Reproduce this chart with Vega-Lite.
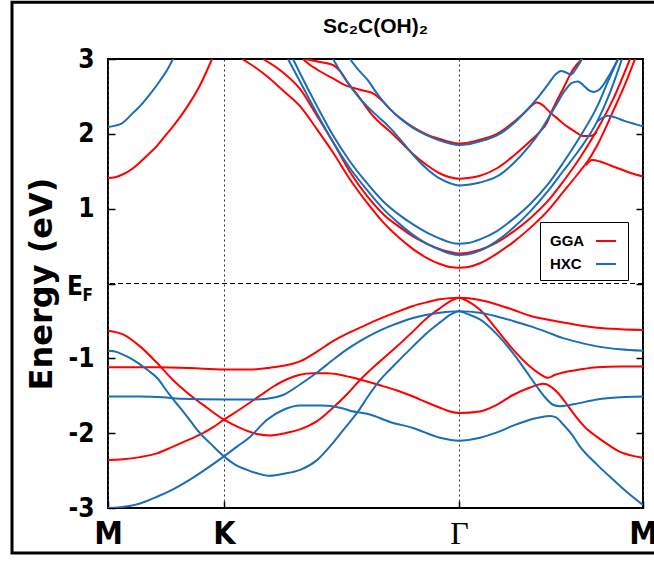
{
"$schema": "https://vega.github.io/schema/vega-lite/v6.json",
"width": 535, "height": 449,
"autosize": "none",
"padding": {"left": 108, "top": 59, "right": 11, "bottom": 57},
"background": "white",
"title": {"text": "Sc₂C(OH)₂", "fontSize": 21, "fontWeight": "bold", "font": "Liberation Sans Narrow, Liberation Sans", "color": "black", "anchor": "middle", "frame": "group", "offset": 0, "dy": 36},
"config": {
  "view": {"stroke": "black", "strokeWidth": 2},
  "axisX": {"title": null, "domain": false, "labelFont": "Liberation Sans Narrow, DejaVu Sans Condensed, Liberation Sans", "labelFontSize": 32, "labelFontWeight": "bold", "labelColor": "black", "tickColor": "black", "tickSize": -7, "tickWidth": 1.5, "labelPadding": 17, "grid": true, "gridDash": [2, 3], "gridColor": "#333333", "gridWidth": 1, "labelFlush": false},
  "axisY": {"domain": false, "grid": false, "labelFont": "Liberation Sans Narrow, DejaVu Sans Condensed, Liberation Sans", "labelFontSize": 26, "labelFontWeight": "bold", "labelColor": "black", "tickColor": "black", "tickSize": -7, "tickWidth": 1.5, "labelPadding": 21, "titleFont": "DejaVu Sans", "titleFontSize": 32, "titleFontWeight": "bold", "titleColor": "black", "titlePadding": 10, "labelFlush": false}
},
"datasets": {"bands": [
{"b":"gA","m":"GGA","k":0,"E":-0.63},{"b":"gA","m":"GGA","k":15,"E":-0.68},{"b":"gA","m":"GGA","k":32,"E":-0.84},{"b":"gA","m":"GGA","k":49,"E":-1.06},{"b":"gA","m":"GGA","k":65,"E":-1.29},{"b":"gA","m":"GGA","k":82,"E":-1.49},{"b":"gA","m":"GGA","k":99,"E":-1.66},{"b":"gA","m":"GGA","k":116,"E":-1.82},{"b":"gA","m":"GGA","k":132,"E":-1.93},{"b":"gA","m":"GGA","k":149,"E":-2.01},{"b":"gA","m":"GGA","k":162,"E":-2.03},{"b":"gA","m":"GGA","k":177,"E":-2.0},{"b":"gA","m":"GGA","k":192,"E":-1.95},{"b":"gA","m":"GGA","k":209,"E":-1.84},{"b":"gA","m":"GGA","k":225,"E":-1.66},{"b":"gA","m":"GGA","k":239,"E":-1.48},{"b":"gA","m":"GGA","k":252,"E":-1.29},{"b":"gA","m":"GGA","k":272,"E":-1.04},{"b":"gA","m":"GGA","k":289,"E":-0.84},{"b":"gA","m":"GGA","k":305,"E":-0.64},{"b":"gA","m":"GGA","k":319,"E":-0.46},{"b":"gA","m":"GGA","k":332,"E":-0.33},{"b":"gA","m":"GGA","k":342,"E":-0.24},{"b":"gA","m":"GGA","k":351,"E":-0.19},{"b":"gA","m":"GGA","k":360,"E":-0.24},{"b":"gA","m":"GGA","k":372,"E":-0.35},{"b":"gA","m":"GGA","k":389,"E":-0.62},{"b":"gA","m":"GGA","k":405,"E":-0.88},{"b":"gA","m":"GGA","k":422,"E":-1.11},{"b":"gA","m":"GGA","k":432,"E":-1.21},{"b":"gA","m":"GGA","k":440,"E":-1.26},{"b":"gA","m":"GGA","k":447,"E":-1.22},{"b":"gA","m":"GGA","k":455,"E":-1.19},{"b":"gA","m":"GGA","k":472,"E":-1.15},{"b":"gA","m":"GGA","k":489,"E":-1.12},{"b":"gA","m":"GGA","k":512,"E":-1.11},{"b":"gA","m":"GGA","k":535,"E":-1.11},
{"b":"gB","m":"GGA","k":0,"E":-1.12},{"b":"gB","m":"GGA","k":32,"E":-1.12},{"b":"gB","m":"GGA","k":49,"E":-1.12},{"b":"gB","m":"GGA","k":82,"E":-1.13},{"b":"gB","m":"GGA","k":116,"E":-1.15},{"b":"gB","m":"GGA","k":142,"E":-1.15},{"b":"gB","m":"GGA","k":159,"E":-1.13},{"b":"gB","m":"GGA","k":175,"E":-1.1},{"b":"gB","m":"GGA","k":192,"E":-1.04},{"b":"gB","m":"GGA","k":209,"E":-0.91},{"b":"gB","m":"GGA","k":225,"E":-0.77},{"b":"gB","m":"GGA","k":239,"E":-0.67},{"b":"gB","m":"GGA","k":252,"E":-0.59},{"b":"gB","m":"GGA","k":272,"E":-0.47},{"b":"gB","m":"GGA","k":289,"E":-0.38},{"b":"gB","m":"GGA","k":305,"E":-0.3},{"b":"gB","m":"GGA","k":319,"E":-0.25},{"b":"gB","m":"GGA","k":332,"E":-0.21},{"b":"gB","m":"GGA","k":351,"E":-0.19},{"b":"gB","m":"GGA","k":372,"E":-0.22},{"b":"gB","m":"GGA","k":389,"E":-0.28},{"b":"gB","m":"GGA","k":405,"E":-0.35},{"b":"gB","m":"GGA","k":422,"E":-0.43},{"b":"gB","m":"GGA","k":439,"E":-0.48},{"b":"gB","m":"GGA","k":455,"E":-0.52},{"b":"gB","m":"GGA","k":472,"E":-0.56},{"b":"gB","m":"GGA","k":489,"E":-0.59},{"b":"gB","m":"GGA","k":512,"E":-0.61},{"b":"gB","m":"GGA","k":535,"E":-0.62},
{"b":"gC","m":"GGA","k":0,"E":-2.36},{"b":"gC","m":"GGA","k":15,"E":-2.35},{"b":"gC","m":"GGA","k":32,"E":-2.32},{"b":"gC","m":"GGA","k":49,"E":-2.27},{"b":"gC","m":"GGA","k":65,"E":-2.18},{"b":"gC","m":"GGA","k":82,"E":-2.08},{"b":"gC","m":"GGA","k":92,"E":-2.02},{"b":"gC","m":"GGA","k":104,"E":-1.93},{"b":"gC","m":"GGA","k":116,"E":-1.82},{"b":"gC","m":"GGA","k":132,"E":-1.68},{"b":"gC","m":"GGA","k":142,"E":-1.59},{"b":"gC","m":"GGA","k":154,"E":-1.48},{"b":"gC","m":"GGA","k":165,"E":-1.38},{"b":"gC","m":"GGA","k":179,"E":-1.28},{"b":"gC","m":"GGA","k":192,"E":-1.22},{"b":"gC","m":"GGA","k":205,"E":-1.2},{"b":"gC","m":"GGA","k":219,"E":-1.2},{"b":"gC","m":"GGA","k":232,"E":-1.22},{"b":"gC","m":"GGA","k":242,"E":-1.25},{"b":"gC","m":"GGA","k":259,"E":-1.31},{"b":"gC","m":"GGA","k":272,"E":-1.36},{"b":"gC","m":"GGA","k":289,"E":-1.43},{"b":"gC","m":"GGA","k":305,"E":-1.51},{"b":"gC","m":"GGA","k":319,"E":-1.59},{"b":"gC","m":"GGA","k":332,"E":-1.66},{"b":"gC","m":"GGA","k":342,"E":-1.71},{"b":"gC","m":"GGA","k":351,"E":-1.73},{"b":"gC","m":"GGA","k":372,"E":-1.71},{"b":"gC","m":"GGA","k":389,"E":-1.62},{"b":"gC","m":"GGA","k":405,"E":-1.49},{"b":"gC","m":"GGA","k":422,"E":-1.39},{"b":"gC","m":"GGA","k":435,"E":-1.34},{"b":"gC","m":"GGA","k":442,"E":-1.37},{"b":"gC","m":"GGA","k":449,"E":-1.45},{"b":"gC","m":"GGA","k":457,"E":-1.58},{"b":"gC","m":"GGA","k":465,"E":-1.73},{"b":"gC","m":"GGA","k":477,"E":-1.92},{"b":"gC","m":"GGA","k":489,"E":-2.05},{"b":"gC","m":"GGA","k":502,"E":-2.17},{"b":"gC","m":"GGA","k":512,"E":-2.25},{"b":"gC","m":"GGA","k":524,"E":-2.3},{"b":"gC","m":"GGA","k":535,"E":-2.33},
{"b":"gc1","m":"GGA","k":134,"E":3.0},{"b":"gc1","m":"GGA","k":147,"E":2.89},{"b":"gc1","m":"GGA","k":159,"E":2.77},{"b":"gc1","m":"GGA","k":175,"E":2.58},{"b":"gc1","m":"GGA","k":192,"E":2.37},{"b":"gc1","m":"GGA","k":209,"E":2.06},{"b":"gc1","m":"GGA","k":225,"E":1.75},{"b":"gc1","m":"GGA","k":242,"E":1.39},{"b":"gc1","m":"GGA","k":259,"E":1.08},{"b":"gc1","m":"GGA","k":275,"E":0.82},{"b":"gc1","m":"GGA","k":292,"E":0.6},{"b":"gc1","m":"GGA","k":305,"E":0.46},{"b":"gc1","m":"GGA","k":319,"E":0.34},{"b":"gc1","m":"GGA","k":332,"E":0.26},{"b":"gc1","m":"GGA","k":342,"E":0.22},{"b":"gc1","m":"GGA","k":351,"E":0.21},{"b":"gc1","m":"GGA","k":360,"E":0.22},{"b":"gc1","m":"GGA","k":372,"E":0.27},{"b":"gc1","m":"GGA","k":389,"E":0.4},{"b":"gc1","m":"GGA","k":405,"E":0.55},{"b":"gc1","m":"GGA","k":422,"E":0.74},{"b":"gc1","m":"GGA","k":439,"E":0.96},{"b":"gc1","m":"GGA","k":455,"E":1.22},{"b":"gc1","m":"GGA","k":472,"E":1.5},{"b":"gc1","m":"GGA","k":480,"E":1.64},{"b":"gc1","m":"GGA","k":489,"E":1.84},{"b":"gc1","m":"GGA","k":505,"E":2.3},{"b":"gc1","m":"GGA","k":517,"E":2.66},{"b":"gc1","m":"GGA","k":527,"E":3.0},
{"b":"gc2","m":"GGA","k":155,"E":3.0},{"b":"gc2","m":"GGA","k":175,"E":2.82},{"b":"gc2","m":"GGA","k":192,"E":2.6},{"b":"gc2","m":"GGA","k":209,"E":2.24},{"b":"gc2","m":"GGA","k":225,"E":1.89},{"b":"gc2","m":"GGA","k":242,"E":1.49},{"b":"gc2","m":"GGA","k":259,"E":1.17},{"b":"gc2","m":"GGA","k":275,"E":0.93},{"b":"gc2","m":"GGA","k":292,"E":0.75},{"b":"gc2","m":"GGA","k":305,"E":0.63},{"b":"gc2","m":"GGA","k":319,"E":0.53},{"b":"gc2","m":"GGA","k":332,"E":0.46},{"b":"gc2","m":"GGA","k":342,"E":0.42},{"b":"gc2","m":"GGA","k":351,"E":0.4},{"b":"gc2","m":"GGA","k":360,"E":0.41},{"b":"gc2","m":"GGA","k":372,"E":0.45},{"b":"gc2","m":"GGA","k":389,"E":0.55},{"b":"gc2","m":"GGA","k":405,"E":0.69},{"b":"gc2","m":"GGA","k":422,"E":0.87},{"b":"gc2","m":"GGA","k":439,"E":1.09},{"b":"gc2","m":"GGA","k":455,"E":1.36},{"b":"gc2","m":"GGA","k":472,"E":1.68},{"b":"gc2","m":"GGA","k":489,"E":2.05},{"b":"gc2","m":"GGA","k":505,"E":2.46},{"b":"gc2","m":"GGA","k":522,"E":3.0},
{"b":"gc3","m":"GGA","k":197,"E":3.0},{"b":"gc3","m":"GGA","k":212,"E":2.96},{"b":"gc3","m":"GGA","k":225,"E":2.92},{"b":"gc3","m":"GGA","k":232,"E":2.84},{"b":"gc3","m":"GGA","k":240,"E":2.68},{"b":"gc3","m":"GGA","k":249,"E":2.53},{"b":"gc3","m":"GGA","k":257,"E":2.38},{"b":"gc3","m":"GGA","k":265,"E":2.24},{"b":"gc3","m":"GGA","k":282,"E":2.03},{"b":"gc3","m":"GGA","k":292,"E":1.9},{"b":"gc3","m":"GGA","k":305,"E":1.73},{"b":"gc3","m":"GGA","k":319,"E":1.58},{"b":"gc3","m":"GGA","k":332,"E":1.47},{"b":"gc3","m":"GGA","k":342,"E":1.42},{"b":"gc3","m":"GGA","k":351,"E":1.4},{"b":"gc3","m":"GGA","k":360,"E":1.41},{"b":"gc3","m":"GGA","k":372,"E":1.44},{"b":"gc3","m":"GGA","k":389,"E":1.54},{"b":"gc3","m":"GGA","k":405,"E":1.7},{"b":"gc3","m":"GGA","k":422,"E":1.9},{"b":"gc3","m":"GGA","k":432,"E":2.03},{"b":"gc3","m":"GGA","k":439,"E":2.15},{"b":"gc3","m":"GGA","k":443,"E":2.28},{"b":"gc3","m":"GGA","k":448,"E":2.42},{"b":"gc3","m":"GGA","k":455,"E":2.6},{"b":"gc3","m":"GGA","k":465,"E":2.86},{"b":"gc3","m":"GGA","k":474,"E":3.0},
{"b":"gc4","m":"GGA","k":195,"E":3.0},{"b":"gc4","m":"GGA","k":202,"E":2.92},{"b":"gc4","m":"GGA","k":209,"E":2.86},{"b":"gc4","m":"GGA","k":225,"E":2.74},{"b":"gc4","m":"GGA","k":239,"E":2.64},{"b":"gc4","m":"GGA","k":252,"E":2.59},{"b":"gc4","m":"GGA","k":265,"E":2.54},{"b":"gc4","m":"GGA","k":275,"E":2.43},{"b":"gc4","m":"GGA","k":282,"E":2.33},{"b":"gc4","m":"GGA","k":292,"E":2.21},{"b":"gc4","m":"GGA","k":305,"E":2.09},{"b":"gc4","m":"GGA","k":319,"E":1.99},{"b":"gc4","m":"GGA","k":332,"E":1.93},{"b":"gc4","m":"GGA","k":342,"E":1.89},{"b":"gc4","m":"GGA","k":351,"E":1.87},{"b":"gc4","m":"GGA","k":360,"E":1.88},{"b":"gc4","m":"GGA","k":372,"E":1.92},{"b":"gc4","m":"GGA","k":389,"E":2.0},{"b":"gc4","m":"GGA","k":405,"E":2.15},{"b":"gc4","m":"GGA","k":417,"E":2.29},{"b":"gc4","m":"GGA","k":429,"E":2.42},{"b":"gc4","m":"GGA","k":435,"E":2.38},{"b":"gc4","m":"GGA","k":441,"E":2.3},{"b":"gc4","m":"GGA","k":448,"E":2.22},{"b":"gc4","m":"GGA","k":459,"E":2.1},{"b":"gc4","m":"GGA","k":467,"E":2.03},{"b":"gc4","m":"GGA","k":475,"E":1.97},{"b":"gc4","m":"GGA","k":482,"E":1.97},{"b":"gc4","m":"GGA","k":489,"E":2.02},
{"b":"gc5","m":"GGA","k":0,"E":1.41},{"b":"gc5","m":"GGA","k":7,"E":1.42},{"b":"gc5","m":"GGA","k":15,"E":1.46},{"b":"gc5","m":"GGA","k":24,"E":1.53},{"b":"gc5","m":"GGA","k":32,"E":1.62},{"b":"gc5","m":"GGA","k":40,"E":1.72},{"b":"gc5","m":"GGA","k":49,"E":1.84},{"b":"gc5","m":"GGA","k":57,"E":1.97},{"b":"gc5","m":"GGA","k":65,"E":2.1},{"b":"gc5","m":"GGA","k":74,"E":2.26},{"b":"gc5","m":"GGA","k":82,"E":2.42},{"b":"gc5","m":"GGA","k":92,"E":2.65},{"b":"gc5","m":"GGA","k":104,"E":3.0},
{"b":"gc6","m":"GGA","k":478,"E":1.58},{"b":"gc6","m":"GGA","k":484,"E":1.65},{"b":"gc6","m":"GGA","k":492,"E":1.63},{"b":"gc6","m":"GGA","k":502,"E":1.58},{"b":"gc6","m":"GGA","k":512,"E":1.53},{"b":"gc6","m":"GGA","k":522,"E":1.48},{"b":"gc6","m":"GGA","k":535,"E":1.43},
{"b":"hA","m":"HXC","k":0,"E":-0.9},{"b":"hA","m":"HXC","k":7,"E":-0.91},{"b":"hA","m":"HXC","k":15,"E":-0.95},{"b":"hA","m":"HXC","k":24,"E":-1.01},{"b":"hA","m":"HXC","k":32,"E":-1.08},{"b":"hA","m":"HXC","k":40,"E":-1.16},{"b":"hA","m":"HXC","k":49,"E":-1.26},{"b":"hA","m":"HXC","k":59,"E":-1.44},{"b":"hA","m":"HXC","k":67,"E":-1.58},{"b":"hA","m":"HXC","k":72,"E":-1.66},{"b":"hA","m":"HXC","k":82,"E":-1.83},{"b":"hA","m":"HXC","k":92,"E":-2.0},{"b":"hA","m":"HXC","k":104,"E":-2.16},{"b":"hA","m":"HXC","k":116,"E":-2.31},{"b":"hA","m":"HXC","k":127,"E":-2.42},{"b":"hA","m":"HXC","k":139,"E":-2.49},{"b":"hA","m":"HXC","k":150,"E":-2.54},{"b":"hA","m":"HXC","k":162,"E":-2.57},{"b":"hA","m":"HXC","k":177,"E":-2.54},{"b":"hA","m":"HXC","k":192,"E":-2.49},{"b":"hA","m":"HXC","k":209,"E":-2.36},{"b":"hA","m":"HXC","k":225,"E":-2.13},{"b":"hA","m":"HXC","k":237,"E":-1.93},{"b":"hA","m":"HXC","k":249,"E":-1.73},{"b":"hA","m":"HXC","k":262,"E":-1.47},{"b":"hA","m":"HXC","k":272,"E":-1.29},{"b":"hA","m":"HXC","k":282,"E":-1.15},{"b":"hA","m":"HXC","k":305,"E":-0.84},{"b":"hA","m":"HXC","k":319,"E":-0.66},{"b":"hA","m":"HXC","k":332,"E":-0.52},{"b":"hA","m":"HXC","k":342,"E":-0.42},{"b":"hA","m":"HXC","k":351,"E":-0.37},{"b":"hA","m":"HXC","k":360,"E":-0.41},{"b":"hA","m":"HXC","k":372,"E":-0.48},{"b":"hA","m":"HXC","k":389,"E":-0.68},{"b":"hA","m":"HXC","k":405,"E":-0.93},{"b":"hA","m":"HXC","k":417,"E":-1.15},{"b":"hA","m":"HXC","k":429,"E":-1.38},{"b":"hA","m":"HXC","k":437,"E":-1.52},{"b":"hA","m":"HXC","k":445,"E":-1.62},{"b":"hA","m":"HXC","k":452,"E":-1.64},{"b":"hA","m":"HXC","k":467,"E":-1.61},{"b":"hA","m":"HXC","k":489,"E":-1.55},{"b":"hA","m":"HXC","k":512,"E":-1.52},{"b":"hA","m":"HXC","k":535,"E":-1.51},
{"b":"hB","m":"HXC","k":0,"E":-1.51},{"b":"hB","m":"HXC","k":32,"E":-1.51},{"b":"hB","m":"HXC","k":55,"E":-1.52},{"b":"hB","m":"HXC","k":72,"E":-1.54},{"b":"hB","m":"HXC","k":116,"E":-1.55},{"b":"hB","m":"HXC","k":142,"E":-1.55},{"b":"hB","m":"HXC","k":159,"E":-1.54},{"b":"hB","m":"HXC","k":175,"E":-1.49},{"b":"hB","m":"HXC","k":192,"E":-1.35},{"b":"hB","m":"HXC","k":209,"E":-1.19},{"b":"hB","m":"HXC","k":225,"E":-1.02},{"b":"hB","m":"HXC","k":239,"E":-0.88},{"b":"hB","m":"HXC","k":252,"E":-0.77},{"b":"hB","m":"HXC","k":267,"E":-0.66},{"b":"hB","m":"HXC","k":282,"E":-0.57},{"b":"hB","m":"HXC","k":305,"E":-0.46},{"b":"hB","m":"HXC","k":332,"E":-0.39},{"b":"hB","m":"HXC","k":351,"E":-0.37},{"b":"hB","m":"HXC","k":372,"E":-0.39},{"b":"hB","m":"HXC","k":389,"E":-0.44},{"b":"hB","m":"HXC","k":405,"E":-0.5},{"b":"hB","m":"HXC","k":422,"E":-0.57},{"b":"hB","m":"HXC","k":439,"E":-0.65},{"b":"hB","m":"HXC","k":455,"E":-0.73},{"b":"hB","m":"HXC","k":472,"E":-0.79},{"b":"hB","m":"HXC","k":489,"E":-0.84},{"b":"hB","m":"HXC","k":512,"E":-0.88},{"b":"hB","m":"HXC","k":535,"E":-0.9},
{"b":"hC","m":"HXC","k":0,"E":-3.0},{"b":"hC","m":"HXC","k":12,"E":-2.99},{"b":"hC","m":"HXC","k":32,"E":-2.94},{"b":"hC","m":"HXC","k":49,"E":-2.85},{"b":"hC","m":"HXC","k":65,"E":-2.75},{"b":"hC","m":"HXC","k":82,"E":-2.62},{"b":"hC","m":"HXC","k":99,"E":-2.47},{"b":"hC","m":"HXC","k":116,"E":-2.31},{"b":"hC","m":"HXC","k":129,"E":-2.18},{"b":"hC","m":"HXC","k":142,"E":-2.05},{"b":"hC","m":"HXC","k":159,"E":-1.82},{"b":"hC","m":"HXC","k":175,"E":-1.69},{"b":"hC","m":"HXC","k":192,"E":-1.63},{"b":"hC","m":"HXC","k":215,"E":-1.63},{"b":"hC","m":"HXC","k":232,"E":-1.66},{"b":"hC","m":"HXC","k":242,"E":-1.7},{"b":"hC","m":"HXC","k":262,"E":-1.75},{"b":"hC","m":"HXC","k":282,"E":-1.85},{"b":"hC","m":"HXC","k":305,"E":-1.93},{"b":"hC","m":"HXC","k":332,"E":-2.06},{"b":"hC","m":"HXC","k":351,"E":-2.1},{"b":"hC","m":"HXC","k":372,"E":-2.06},{"b":"hC","m":"HXC","k":389,"E":-1.99},{"b":"hC","m":"HXC","k":405,"E":-1.9},{"b":"hC","m":"HXC","k":422,"E":-1.82},{"b":"hC","m":"HXC","k":442,"E":-1.77},{"b":"hC","m":"HXC","k":448,"E":-1.79},{"b":"hC","m":"HXC","k":455,"E":-1.88},{"b":"hC","m":"HXC","k":464,"E":-2.02},{"b":"hC","m":"HXC","k":472,"E":-2.18},{"b":"hC","m":"HXC","k":489,"E":-2.42},{"b":"hC","m":"HXC","k":505,"E":-2.62},{"b":"hC","m":"HXC","k":520,"E":-2.8},{"b":"hC","m":"HXC","k":535,"E":-2.96},
{"b":"hc1","m":"HXC","k":180,"E":3.0},{"b":"hc1","m":"HXC","k":192,"E":2.7},{"b":"hc1","m":"HXC","k":209,"E":2.27},{"b":"hc1","m":"HXC","k":225,"E":1.89},{"b":"hc1","m":"HXC","k":242,"E":1.54},{"b":"hc1","m":"HXC","k":259,"E":1.25},{"b":"hc1","m":"HXC","k":275,"E":1.0},{"b":"hc1","m":"HXC","k":292,"E":0.79},{"b":"hc1","m":"HXC","k":305,"E":0.65},{"b":"hc1","m":"HXC","k":319,"E":0.53},{"b":"hc1","m":"HXC","k":332,"E":0.45},{"b":"hc1","m":"HXC","k":342,"E":0.4},{"b":"hc1","m":"HXC","k":351,"E":0.38},{"b":"hc1","m":"HXC","k":360,"E":0.39},{"b":"hc1","m":"HXC","k":372,"E":0.44},{"b":"hc1","m":"HXC","k":389,"E":0.57},{"b":"hc1","m":"HXC","k":405,"E":0.74},{"b":"hc1","m":"HXC","k":422,"E":0.96},{"b":"hc1","m":"HXC","k":439,"E":1.22},{"b":"hc1","m":"HXC","k":455,"E":1.5},{"b":"hc1","m":"HXC","k":472,"E":1.8},{"b":"hc1","m":"HXC","k":489,"E":2.16},{"b":"hc1","m":"HXC","k":502,"E":2.55},{"b":"hc1","m":"HXC","k":514,"E":3.0},
{"b":"hc2","m":"HXC","k":185,"E":3.0},{"b":"hc2","m":"HXC","k":192,"E":2.81},{"b":"hc2","m":"HXC","k":209,"E":2.37},{"b":"hc2","m":"HXC","k":225,"E":1.98},{"b":"hc2","m":"HXC","k":242,"E":1.63},{"b":"hc2","m":"HXC","k":259,"E":1.34},{"b":"hc2","m":"HXC","k":275,"E":1.1},{"b":"hc2","m":"HXC","k":292,"E":0.91},{"b":"hc2","m":"HXC","k":305,"E":0.79},{"b":"hc2","m":"HXC","k":319,"E":0.68},{"b":"hc2","m":"HXC","k":332,"E":0.6},{"b":"hc2","m":"HXC","k":342,"E":0.55},{"b":"hc2","m":"HXC","k":351,"E":0.53},{"b":"hc2","m":"HXC","k":360,"E":0.54},{"b":"hc2","m":"HXC","k":372,"E":0.59},{"b":"hc2","m":"HXC","k":389,"E":0.7},{"b":"hc2","m":"HXC","k":405,"E":0.86},{"b":"hc2","m":"HXC","k":422,"E":1.06},{"b":"hc2","m":"HXC","k":439,"E":1.31},{"b":"hc2","m":"HXC","k":455,"E":1.61},{"b":"hc2","m":"HXC","k":472,"E":1.96},{"b":"hc2","m":"HXC","k":489,"E":2.36},{"b":"hc2","m":"HXC","k":500,"E":2.7},{"b":"hc2","m":"HXC","k":510,"E":3.0},
{"b":"hc3","m":"HXC","k":225,"E":3.0},{"b":"hc3","m":"HXC","k":233,"E":2.82},{"b":"hc3","m":"HXC","k":242,"E":2.64},{"b":"hc3","m":"HXC","k":250,"E":2.5},{"b":"hc3","m":"HXC","k":259,"E":2.37},{"b":"hc3","m":"HXC","k":270,"E":2.23},{"b":"hc3","m":"HXC","k":282,"E":2.08},{"b":"hc3","m":"HXC","k":292,"E":1.93},{"b":"hc3","m":"HXC","k":305,"E":1.72},{"b":"hc3","m":"HXC","k":319,"E":1.53},{"b":"hc3","m":"HXC","k":332,"E":1.4},{"b":"hc3","m":"HXC","k":342,"E":1.34},{"b":"hc3","m":"HXC","k":351,"E":1.31},{"b":"hc3","m":"HXC","k":360,"E":1.32},{"b":"hc3","m":"HXC","k":372,"E":1.35},{"b":"hc3","m":"HXC","k":389,"E":1.43},{"b":"hc3","m":"HXC","k":405,"E":1.6},{"b":"hc3","m":"HXC","k":422,"E":1.85},{"b":"hc3","m":"HXC","k":432,"E":2.03},{"b":"hc3","m":"HXC","k":447,"E":2.36},{"b":"hc3","m":"HXC","k":457,"E":2.58},{"b":"hc3","m":"HXC","k":464,"E":2.68},{"b":"hc3","m":"HXC","k":470,"E":2.7},{"b":"hc3","m":"HXC","k":476,"E":2.64},{"b":"hc3","m":"HXC","k":481,"E":2.58},{"b":"hc3","m":"HXC","k":486,"E":2.56},{"b":"hc3","m":"HXC","k":492,"E":2.6},{"b":"hc3","m":"HXC","k":502,"E":2.8},{"b":"hc3","m":"HXC","k":510,"E":3.0},
{"b":"hc4","m":"HXC","k":242,"E":3.0},{"b":"hc4","m":"HXC","k":250,"E":2.86},{"b":"hc4","m":"HXC","k":259,"E":2.73},{"b":"hc4","m":"HXC","k":270,"E":2.52},{"b":"hc4","m":"HXC","k":282,"E":2.33},{"b":"hc4","m":"HXC","k":292,"E":2.21},{"b":"hc4","m":"HXC","k":305,"E":2.08},{"b":"hc4","m":"HXC","k":319,"E":1.98},{"b":"hc4","m":"HXC","k":332,"E":1.91},{"b":"hc4","m":"HXC","k":342,"E":1.87},{"b":"hc4","m":"HXC","k":351,"E":1.85},{"b":"hc4","m":"HXC","k":360,"E":1.86},{"b":"hc4","m":"HXC","k":372,"E":1.9},{"b":"hc4","m":"HXC","k":389,"E":1.98},{"b":"hc4","m":"HXC","k":405,"E":2.13},{"b":"hc4","m":"HXC","k":417,"E":2.29},{"b":"hc4","m":"HXC","k":429,"E":2.47},{"b":"hc4","m":"HXC","k":440,"E":2.66},{"b":"hc4","m":"HXC","k":448,"E":2.8},{"b":"hc4","m":"HXC","k":453,"E":2.84},{"b":"hc4","m":"HXC","k":458,"E":2.82},{"b":"hc4","m":"HXC","k":463,"E":2.79},{"b":"hc4","m":"HXC","k":468,"E":2.87},{"b":"hc4","m":"HXC","k":474,"E":3.0},
{"b":"hc5","m":"HXC","k":0,"E":2.09},{"b":"hc5","m":"HXC","k":7,"E":2.11},{"b":"hc5","m":"HXC","k":14,"E":2.14},{"b":"hc5","m":"HXC","k":20,"E":2.21},{"b":"hc5","m":"HXC","k":25,"E":2.28},{"b":"hc5","m":"HXC","k":32,"E":2.37},{"b":"hc5","m":"HXC","k":42,"E":2.53},{"b":"hc5","m":"HXC","k":52,"E":2.71},{"b":"hc5","m":"HXC","k":59,"E":2.85},{"b":"hc5","m":"HXC","k":65,"E":3.0},
{"b":"hc6","m":"HXC","k":489,"E":2.16},{"b":"hc6","m":"HXC","k":494,"E":2.21},{"b":"hc6","m":"HXC","k":500,"E":2.24},{"b":"hc6","m":"HXC","k":507,"E":2.22},{"b":"hc6","m":"HXC","k":517,"E":2.17},{"b":"hc6","m":"HXC","k":527,"E":2.13},{"b":"hc6","m":"HXC","k":535,"E":2.1}
],
"marks": [{"lab": "E", "sub": "F", "k": 0, "E": 0}],
"frame": [{"x1": -96, "x2": 552, "y1": 3.76, "y2": -3.6}]
},
"layer": [
  {
    "data": {"name": "frame"},
    "mark": {"type": "rect", "fill": "white", "fillOpacity": 0, "stroke": "black", "strokeWidth": 3, "clip": false},
    "encoding": {
      "x": {"field": "x1", "type": "quantitative", "scale": {"domain": [0, 535], "nice": false, "zero": false}},
      "x2": {"field": "x2"},
      "y": {"field": "y1", "type": "quantitative", "scale": {"domain": [-3, 3], "nice": false, "zero": false}, "axis": null},
      "y2": {"field": "y2"}
    }
  },
  {
    "data": {"name": "marks"},
    "mark": {"type": "rule", "color": "black", "strokeWidth": 1, "strokeDash": [5, 3]},
    "encoding": {
      "y": {"field": "E", "type": "quantitative", "scale": {"domain": [-3, 3], "nice": false, "zero": false},
            "axis": {"orient": "right", "values": [-2, -1, 0, 1, 2], "labels": false, "title": null, "tickSize": -7, "domain": false}}
    }
  },
  {
    "data": {"name": "bands"},
    "mark": {"type": "line", "strokeWidth": 2, "clip": true, "interpolate": "monotone"},
    "encoding": {
      "x": {"field": "k", "type": "quantitative", "scale": {"domain": [0, 535], "nice": false, "zero": false},
            "axis": {"values": [0, 116, 351, 535], "labelExpr": "datum.value == 0 ? 'M' : datum.value == 116 ? 'K' : datum.value == 351 ? 'Γ' : 'M'",
                     "labelFont": {"condition": {"test": "datum.value == 351", "value": "Liberation Serif"}, "value": "Liberation Sans Narrow, DejaVu Sans Condensed, Liberation Sans"},
                     "labelFontWeight": {"condition": {"test": "datum.value == 351", "value": "normal"}, "value": "bold"}}},
      "y": {"field": "E", "type": "quantitative", "scale": {"domain": [-3, 3], "nice": false, "zero": false},
            "axis": {"values": [-3, -2, -1, 0, 1, 2, 3], "labelExpr": "datum.value == 0 ? '' : '' + datum.value", "title": "Energy (eV)"}},
      "color": {"field": "m", "type": "nominal", "scale": {"domain": ["GGA", "HXC"], "range": ["#ff0000", "#1b6db6"]},
                "legend": {"orient": "none", "legendX": 432, "legendY": 163, "title": null, "symbolType": "stroke", "symbolStrokeWidth": 2, "symbolSize": 400,
                           "labelFont": "Liberation Sans", "labelFontSize": 15, "labelFontWeight": "bold", "labelColor": "black",
                           "labelAlign": "left", "labelOffset": -67, "symbolOffset": 47, "strokeColor": "black", "padding": 8, "rowPadding": 4, "fillColor": "white"}},
      "detail": {"field": "b"}
    }
  },
  {
    "data": {"name": "marks"},
    "mark": {"type": "text", "align": "right", "baseline": "middle", "dx": -25, "dy": 3, "fontSize": 26, "fontWeight": "bold", "font": "Liberation Sans Narrow, DejaVu Sans Condensed, Liberation Sans", "color": "black", "clip": false},
    "encoding": {
      "x": {"field": "k", "type": "quantitative"},
      "y": {"field": "E", "type": "quantitative", "axis": null},
      "text": {"field": "lab"}
    }
  },
  {
    "data": {"name": "marks"},
    "mark": {"type": "text", "align": "right", "baseline": "middle", "dx": -15, "dy": 12, "fontSize": 17, "fontWeight": "bold", "font": "Liberation Sans Narrow, DejaVu Sans Condensed, Liberation Sans", "color": "black", "clip": false},
    "encoding": {
      "x": {"field": "k", "type": "quantitative"},
      "y": {"field": "E", "type": "quantitative", "axis": null},
      "text": {"field": "sub"}
    }
  }
],
"resolve": {"axis": {"y": "independent"}}
}
